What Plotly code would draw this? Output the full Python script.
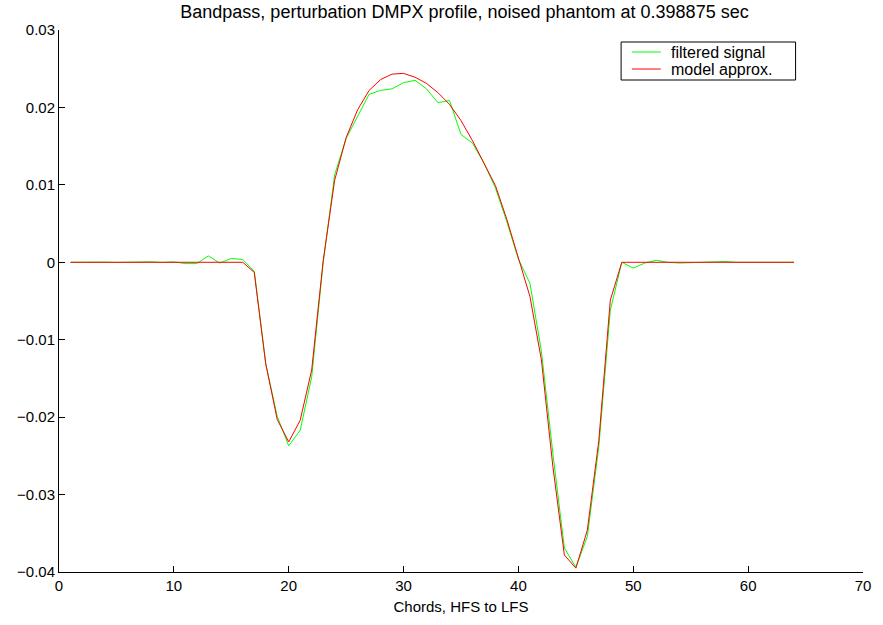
import plotly.graph_objects as go

chords = list(range(1, 65))

filtered_signal = [
    0.0, 0.00002, 0.00004, 0.00002, -0.00002, 0.0, -0.00002, 0.00006, -0.00002, 0.00006,
    -0.00017, -0.00017, 0.00082, -0.0001, 0.0005, 0.00035, -0.00116, -0.0131, -0.0199, -0.0237,
    -0.0217, -0.0148, -0.0001, 0.0113, 0.0160, 0.0188, 0.0217, 0.0222, 0.0224, 0.0232,
    0.0235, 0.0224, 0.0206, 0.0209, 0.0165, 0.0154, 0.0128, 0.0096, 0.0052, 0.0004,
    -0.0027, -0.0115, -0.0247, -0.0369, -0.0394, -0.0354, -0.0238, -0.0062, 0.0, -0.00075,
    -0.0001, 0.00026, 0.0, -0.0001, -0.00005, 0.0, 0.0, 0.0001, 0.0, 0.0,
    0.0, 0.0, 0.0, 0.0,
]

model_approx = [
    0.0, 0.0, 0.0, 0.0, 0.0, 0.0, 0.0, 0.0, 0.0, 0.0,
    0.0, 0.0, 0.0, 0.0, 0.0, 0.0, -0.0013, -0.0131, -0.0203, -0.0232,
    -0.0204, -0.0139, 0.0002, 0.0106, 0.0161, 0.0197, 0.0222, 0.0236, 0.0243, 0.0244,
    0.0239, 0.0231, 0.0219, 0.0204, 0.0183, 0.0157, 0.0128, 0.0099, 0.0055, 0.0007,
    -0.0044, -0.0126, -0.0264, -0.0378, -0.0395, -0.0346, -0.0230, -0.0049, 0.0, 0.0,
    0.0, 0.0, 0.0, 0.0, 0.0, 0.0, 0.0, 0.0, 0.0, 0.0,
    0.0, 0.0, 0.0, 0.0,
]

series_names = ["filtered signal", "model approx."]
series_colors = ["#00ff00", "#ff0000"]

FONT = "Liberation Sans, Arial, Helvetica, sans-serif"
W, H = 883, 625
L, R, T, B = 59, 13, 30, 53
PW, PH = W - L - R, H - T - B


def px_to_paper_x(px):
    return (px - L) / PW


def px_to_paper_y(py):
    return (H - B - py) / PH


fig = go.Figure()
for name, ys, col in zip(series_names, [filtered_signal, model_approx], series_colors):
    fig.add_trace(go.Scatter(x=chords, y=ys, mode="lines", name=name,
                             line=dict(color=col, width=1), showlegend=False))

# legend box drawn like the MATLAB legend
shapes = [dict(type="rect", xref="paper", yref="paper",
               x0=px_to_paper_x(626), x1=px_to_paper_x(802),
               y0=px_to_paper_y(80), y1=px_to_paper_y(42),
               line=dict(color="black", width=1), fillcolor="white", layer="above")]
annotations = []
for i, (name, col) in enumerate(zip(series_names, series_colors)):
    yy = px_to_paper_y(52 + 17 * i)
    shapes.append(dict(type="line", xref="paper", yref="paper",
                       x0=px_to_paper_x(637), x1=px_to_paper_x(666), y0=yy, y1=yy,
                       line=dict(color=col, width=1), layer="above"))
    annotations.append(dict(text=name, xref="paper", yref="paper",
                            x=px_to_paper_x(674), y=yy, xanchor="left", yanchor="middle",
                            showarrow=False, font=dict(size=16, family=FONT, color="black")))

fig.update_layout(
    width=W, height=H,
    margin=dict(l=L, r=R, t=T, b=B),
    paper_bgcolor="white", plot_bgcolor="white",
    font=dict(family=FONT, size=15, color="black"),
    title=dict(text="Bandpass, perturbation DMPX profile, noised phantom at 0.398875 sec",
               font=dict(size=18, family=FONT, color="black"),
               x=(L + PW / 2) / W, xanchor="center",
               yref="container", y=1 - 12 / H, yanchor="middle"),
    showlegend=False,
    shapes=shapes,
    annotations=annotations,
    xaxis=dict(range=[0, 70], dtick=10, tick0=0, showgrid=False, zeroline=False,
               showline=True, linecolor="black", linewidth=1,
               ticks="inside", ticklen=6, tickcolor="black",
               title=dict(text="Chords, HFS to LFS", font=dict(size=15), standoff=8),
               tickfont=dict(size=15)),
    yaxis=dict(range=[-0.04, 0.03], dtick=0.01, tick0=0, showgrid=False, zeroline=False,
               showline=True, linecolor="black", linewidth=1,
               ticks="inside", ticklen=6, tickcolor="black",
               tickfont=dict(size=15)),
)

fig.write_html("out.html")
